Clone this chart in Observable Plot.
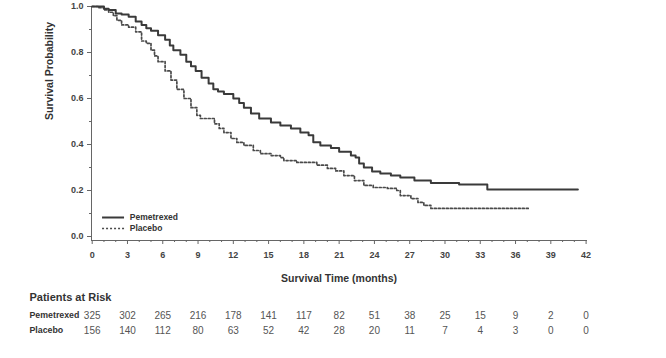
<!DOCTYPE html>
<html><head><meta charset="utf-8">
<script src="https://cdn.jsdelivr.net/npm/d3@7"></script>
<script src="https://cdn.jsdelivr.net/npm/@observablehq/plot@0.6"></script>
<style>
html,body{margin:0;padding:0;background:#fff;}
#chart svg{display:block;}
</style>
</head><body><div id="chart"></div>
<script>
// ---- data ----
const seriesNames = ["Pemetrexed", "Placebo"];
const pemTime = [0, 1.0, 1.4, 2.0, 2.5, 3.1, 3.7, 4.2, 4.6, 5.0, 5.6, 6.2, 6.6, 6.9, 7.5, 8.0, 8.4, 8.8, 9.3, 9.9, 10.3, 10.7, 11.2, 12.0, 12.5, 12.9, 13.5, 14.2, 15.2, 16.0, 16.9, 17.7, 18.4, 18.8, 19.4, 20.3, 21.0, 22.0, 22.4, 22.7, 23.1, 23.8, 24.5, 25.4, 26.2, 27.4, 28.8, 31.2, 33.6, 41.3];
const pemSurv = [1.0, 0.99, 0.985, 0.97, 0.965, 0.955, 0.935, 0.92, 0.905, 0.895, 0.875, 0.855, 0.83, 0.81, 0.79, 0.76, 0.74, 0.72, 0.69, 0.665, 0.64, 0.63, 0.62, 0.60, 0.58, 0.56, 0.535, 0.513, 0.496, 0.483, 0.47, 0.452, 0.44, 0.41, 0.396, 0.385, 0.368, 0.352, 0.343, 0.317, 0.30, 0.283, 0.274, 0.265, 0.257, 0.243, 0.233, 0.226, 0.204, 0.204];
const plaTime = [0, 0.5, 1.0, 1.4, 1.8, 2.1, 2.5, 3.1, 3.7, 4.2, 4.6, 5.0, 5.3, 5.6, 6.2, 6.7, 7.2, 7.8, 8.4, 8.9, 9.2, 10.4, 10.8, 11.2, 11.8, 12.3, 12.9, 13.7, 14.3, 15.2, 16.0, 16.3, 17.4, 19.1, 20.0, 20.7, 21.4, 22.3, 23.1, 23.9, 25.1, 25.9, 26.2, 27.1, 27.7, 28.2, 28.8, 37.1];
const plaSurv = [1.0, 0.995, 0.985, 0.975, 0.96, 0.94, 0.92, 0.91, 0.89, 0.85, 0.84, 0.81, 0.785, 0.76, 0.72, 0.68, 0.64, 0.60, 0.56, 0.527, 0.513, 0.49, 0.47, 0.452, 0.426, 0.409, 0.396, 0.374, 0.36, 0.352, 0.343, 0.33, 0.322, 0.31, 0.296, 0.285, 0.265, 0.243, 0.222, 0.213, 0.209, 0.20, 0.178, 0.165, 0.148, 0.135, 0.122, 0.122];
const xTicks = [0, 3, 6, 9, 12, 15, 18, 21, 24, 27, 30, 33, 36, 39, 42];
const xMinorTicks = d3.range(0, 43, 1).filter(d => d % 3 !== 0);
const yTicks = [0.0, 0.2, 0.4, 0.6, 0.8, 1.0];
const yMinorTicks = [0.1, 0.3, 0.5, 0.7, 0.9];
const riskMonths = [0, 3, 6, 9, 12, 15, 18, 21, 24, 27, 30, 33, 36, 39, 42];
const pemRisk = [325, 302, 265, 216, 178, 141, 117, 82, 51, 38, 25, 15, 9, 2, 0];
const plaRisk = [156, 140, 112, 80, 63, 52, 42, 28, 20, 11, 7, 4, 3, 0, 0];

// ---- tables ----
const pem = pemTime.map((t, i) => ({t, s: pemSurv[i]}));
const pla = plaTime.map((t, i) => ({t, s: plaSurv[i]}));
const risk = riskMonths.map((m, i) => ({m, pem: pemRisk[i], pla: plaRisk[i]}));

const font = "'Liberation Sans', Arial, Helvetica, sans-serif";
const dark = "#3a3a3a";
const dotted = {stroke: "#4a4a4a", strokeWidth: 1.7, strokeDasharray: "2,2"};

const chart = Plot.plot({
  width: 666,
  height: 358,
  marginLeft: 91,
  marginRight: 80,
  marginTop: 6,
  marginBottom: 118,
  x: {domain: [0, 42], range: [91.7, 585.6]},
  y: {domain: [0, 1], range: [236, 6]},
  style: {fontFamily: font, background: "#fff", color: "#444", overflow: "visible"},
  marks: [
    Plot.frame({anchor: "left", stroke: "#666"}),
    Plot.frame({anchor: "bottom", stroke: "#666"}),
    Plot.axisY({ticks: yTicks, tickFormat: d3.format(".1f"), tickSize: 4, tickPadding: 4, fontSize: 9, fontWeight: "bold", fill: "#444", stroke: "#666", label: null}),
    Plot.axisY({ticks: yMinorTicks, tickFormat: () => "", tickSize: 2, stroke: "#666", label: null}),
    Plot.axisX({ticks: xTicks, tickSize: 4, tickPadding: 7, fontSize: 9, fontWeight: "bold", fill: "#444", stroke: "#666", label: null}),
    Plot.axisX({ticks: xMinorTicks, tickFormat: () => "", tickSize: 2, stroke: "#666", label: null}),
    // curves
    Plot.line(pla, {x: "t", y: "s", curve: "step-after", ...dotted}),
    Plot.line(pem, {x: "t", y: "s", curve: "step-after", stroke: dark, strokeWidth: 2}),
    // legend
    Plot.ruleY([0.0826], {x1: 0.88, x2: 2.75, stroke: dark, strokeWidth: 2}),
    Plot.ruleY([0.0348], {x1: 0.88, x2: 2.75, ...dotted}),
    Plot.text([{n: seriesNames[0], y: 0.0826}, {n: seriesNames[1], y: 0.0348}], {x: () => 3.2, y: "y", text: "n", textAnchor: "start", fontSize: 8.5, fontWeight: "bold", fill: "#333"}),
    // axis titles
    Plot.text(["Survival Probability"], {frameAnchor: "left", dx: -42, dy: -3.5, rotate: -90, fontSize: 10.5, fontWeight: "bold", fill: "#333"}),
    Plot.text(["Survival Time (months)"], {frameAnchor: "bottom", dy: 41, fontSize: 10.5, fontWeight: "bold", fill: "#333"}),
    // patients at risk
    Plot.text(["Patients at Risk"], {frameAnchor: "bottom-left", dx: -62, dy: 60, lineAnchor: "bottom", textAnchor: "start", fontSize: 11, fontWeight: "bold", fill: "#333"}),
    Plot.text([seriesNames[0]], {frameAnchor: "bottom-left", dx: -62, dy: 77, lineAnchor: "bottom", textAnchor: "start", fontSize: 8.8, fontWeight: "bold", fill: "#333"}),
    Plot.text([seriesNames[1]], {frameAnchor: "bottom-left", dx: -62, dy: 92, lineAnchor: "bottom", textAnchor: "start", fontSize: 8.8, fontWeight: "bold", fill: "#333"}),
    Plot.text(risk, {x: "m", text: "pem", frameAnchor: "bottom", dy: 78, lineAnchor: "bottom", fontSize: 10, fill: "#555"}),
    Plot.text(risk, {x: "m", text: "pla", frameAnchor: "bottom", dy: 93, lineAnchor: "bottom", fontSize: 10, fill: "#555"})
  ]
});
document.getElementById("chart").appendChild(chart);
</script>
</body></html>
